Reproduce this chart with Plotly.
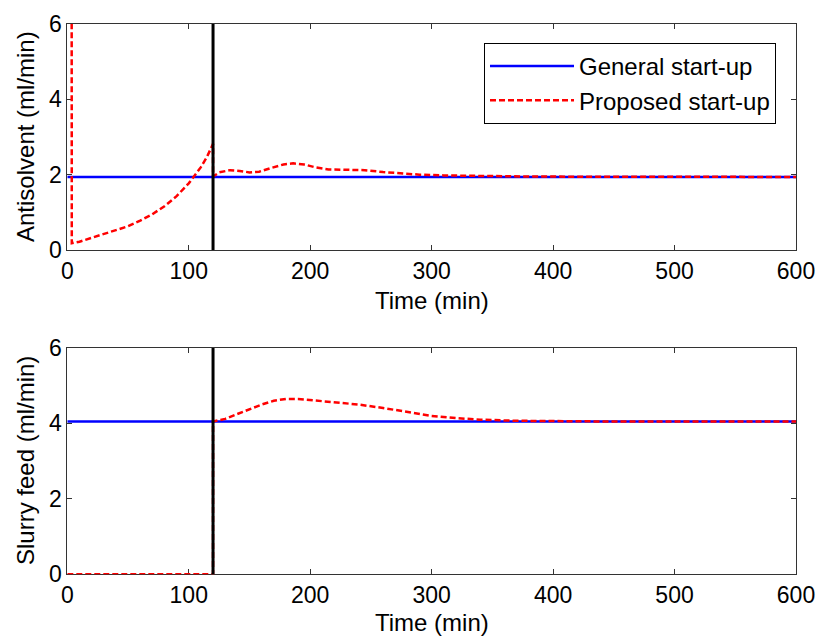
import plotly.graph_objects as go

# Time grid (min) and flow-rate profiles
t_general = [0, 600]
antisolvent_general = [1.94, 1.94]
slurry_general = [4.05, 4.05]

t_prop_anti = [3.6, 3.7, 10, 20, 30, 40, 50, 60, 70, 80, 90, 100, 105, 110, 115, 120,
               120, 125, 134, 142, 150, 158, 168, 178, 186, 195, 205, 215, 230, 245,
               260, 275, 290, 310, 340, 380, 450, 600]
antisolvent_prop = [6.5, 0.18, 0.22, 0.32, 0.41, 0.51, 0.63, 0.78, 0.95, 1.16, 1.43, 1.77,
                    1.98, 2.2, 2.47, 2.82,
                    1.95, 2.06, 2.12, 2.10, 2.06, 2.08, 2.18, 2.27, 2.30, 2.27, 2.19, 2.14,
                    2.13, 2.12, 2.07, 2.03, 2.0, 1.98, 1.96, 1.95, 1.945, 1.94]

t_prop_slurry = [0, 120, 120, 130, 140, 150, 160, 170, 180, 190, 200, 220, 240, 260, 280,
                 300, 320, 340, 370, 400, 450, 600]
slurry_prop = [0, 0, 4.05, 4.12, 4.25, 4.38, 4.50, 4.60, 4.65, 4.65, 4.62, 4.55, 4.50,
               4.41, 4.30, 4.20, 4.14, 4.10, 4.07, 4.06, 4.05, 4.05]

switch_time = 120
x_ticks = [0, 100, 200, 300, 400, 500, 600]
y_ticks = [0, 2, 4, 6]

FONT = "Liberation Sans, Arial, sans-serif"
FS_TICK = 23
FS_TEXT = 24
BLUE = "#0000FF"
RED = "#FF0000"

fig = go.Figure()

# Top panel: antisolvent
fig.add_trace(go.Scatter(x=t_general, y=antisolvent_general, mode="lines",
                         line=dict(color=BLUE, width=2.5), name="General start-up",
                         xaxis="x", yaxis="y"))
fig.add_trace(go.Scatter(x=t_prop_anti, y=antisolvent_prop, mode="lines",
                         line=dict(color=RED, width=2.5, dash="6px,3px"),
                         name="Proposed start-up", xaxis="x", yaxis="y"))
fig.add_trace(go.Scatter(x=[switch_time, switch_time], y=[0, 6], mode="lines",
                         line=dict(color="black", width=3), showlegend=False,
                         xaxis="x", yaxis="y"))

# Bottom panel: slurry feed
fig.add_trace(go.Scatter(x=t_general, y=slurry_general, mode="lines",
                         line=dict(color=BLUE, width=2.5), showlegend=False,
                         xaxis="x2", yaxis="y2"))
fig.add_trace(go.Scatter(x=t_prop_slurry, y=slurry_prop, mode="lines",
                         line=dict(color=RED, width=2.5, dash="6px,3px"),
                         showlegend=False, xaxis="x2", yaxis="y2"))
fig.add_trace(go.Scatter(x=[switch_time, switch_time], y=[0, 6], mode="lines",
                         line=dict(color="black", width=3), showlegend=False,
                         xaxis="x2", yaxis="y2"))

axis_common = dict(
    showgrid=False, zeroline=False, showline=True, linecolor="#333333", linewidth=1,
    mirror="ticks", ticks="inside", ticklen=5, tickcolor="#333333", automargin=False,
    layer="below traces",
    tickfont=dict(family=FONT, size=FS_TICK, color="black"),
)

xdom = [67.3 / 817, 796 / 817]


def label(text, x, y, angle=0):
    return dict(text=text, x=x, y=y, xref="paper", yref="paper", showarrow=False,
                xanchor="center", yanchor="middle", textangle=angle,
                font=dict(family=FONT, size=FS_TEXT, color="black"))


fig.update_layout(
    width=817, height=636,
    margin=dict(l=0, r=0, t=0, b=0, autoexpand=False),
    paper_bgcolor="white", plot_bgcolor="white",
    font=dict(family=FONT, color="black"),
    xaxis=dict(axis_common, domain=xdom, range=[0, 600], tickvals=x_ticks, anchor="y"),
    yaxis=dict(axis_common, domain=[1 - 250 / 636, 1 - 24 / 636], range=[0, 6],
               tickvals=y_ticks, anchor="x"),
    xaxis2=dict(axis_common, domain=xdom, range=[0, 600], tickvals=x_ticks, anchor="y2"),
    yaxis2=dict(axis_common, domain=[1 - 574.3 / 636, 1 - 348 / 636], range=[0, 6],
                tickvals=y_ticks, anchor="x2"),
    showlegend=True,
    legend=dict(x=776 / 817, xanchor="right", y=1 - 43 / 636, yanchor="top",
                bgcolor="white", bordercolor="black", borderwidth=1,
                font=dict(family=FONT, size=FS_TEXT, color="black"),
                itemwidth=84, tracegroupgap=0),
    annotations=[
        label("Time (min)", sum(xdom) / 2, 1 - 300 / 636),
        label("Time (min)", sum(xdom) / 2, 1 - 622 / 636),
        label("Antisolvent (ml/min)", 25 / 817, 1 - 137 / 636, -90),
        label("Slurry feed (ml/min)", 25 / 817, 1 - 461 / 636, -90),
    ],
)

fig.write_html("out.html")
